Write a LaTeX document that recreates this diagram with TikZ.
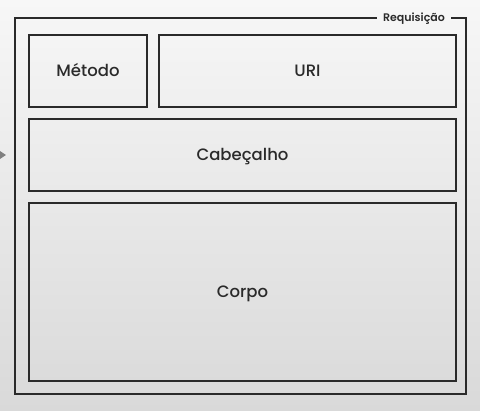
\documentclass[tikz,border=0pt]{standalone}
\usepackage{fontspec}
\setmainfont{Poppins}[UprightFont=*-Medium,BoldFont=*-SemiBold]
\usepackage{xcolor}
\usetikzlibrary{arrows.meta,positioning}

\definecolor{bgtop}{HTML}{F7F7F7}
\definecolor{bgbot}{HTML}{D9D9D9}
\definecolor{edge}{HTML}{2A2A2A}

\begin{document}
\begin{tikzpicture}[
  x=1pt,y=1pt,
  >=Triangle,
  every node/.style={font=\fontsize{16.5}{19}\selectfont,text=edge,
                     text height=11.5pt,text depth=0pt},
  part/.style={draw=edge,line width=1.3pt,minimum height=72pt,
               inner sep=0pt,align=center}
]

% ---- canvas ----
\shade[top color=bgtop,bottom color=bgbot] (0,0) rectangle (480,411);
\useasboundingbox (0,0) rectangle (480,411);

% ---- request parts ----
\node[part,minimum width=118pt]  (metodo) at (88,340)    {Método};
\node[part,minimum width=297pt]  (uri)    at (307.5,340) {URI};
\node[part,minimum width=427pt]  (cab)    at (242.5,256) {Cabeçalho};
\node[part,minimum width=427pt,minimum height=178pt]
                                 (corpo)  at (242.5,119) {Corpo};

% ---- outer Requisição frame ----
\node[font=\fontsize{11}{13}\selectfont\bfseries,text height=8pt,inner xsep=6pt]
  (req) at (414,393) {Requisição};
\draw[draw=edge,line width=1.3pt] (req.east) -| (466,17) -| (15,393) -- (req.west);

% incoming arrow (mostly off the canvas)
\coordinate (from) at (-30,256);
\coordinate (to)   at (6,256);
\draw[->,gray,line width=1pt,arrows={-Triangle[length=7pt,width=9pt]}] (from) -- (to);

\end{tikzpicture}
\end{document}
